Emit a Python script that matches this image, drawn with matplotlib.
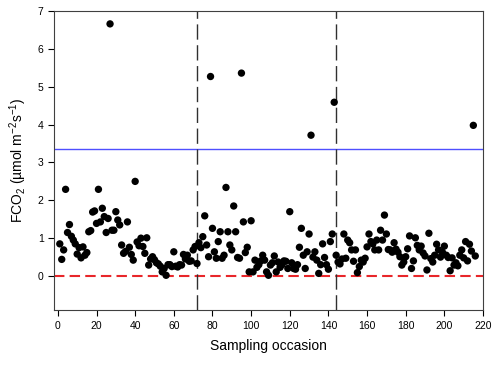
import numpy as np
import matplotlib
matplotlib.use('Agg')
import matplotlib.pyplot as plt

plt.rcParams['font.family'] = ['Liberation Sans', 'DejaVu Sans']
plt.rcParams['mathtext.default'] = 'regular'

# FCO2 per sampling occasion, three campaigns of 72 samples
fco2_part1 = [0.85, 0.44, 0.69, 2.29, 1.15, 1.36, 1.05, 0.95, 0.85, 0.58,
              0.75, 0.48, 0.77, 0.55, 0.62, 1.17, 1.20, 1.69, 1.72, 1.39,
              2.29, 1.43, 1.79, 1.57, 1.15, 1.52, 6.66, 1.21, 1.21, 1.70,
              1.48, 1.35, 0.82, 0.60, 0.65, 1.43, 0.76, 0.57, 0.42, 2.50,
              0.90, 0.80, 1.00, 0.78, 0.60, 1.01, 0.29, 0.45, 0.51, 0.43,
              0.35, 0.32, 0.26, 0.11, 0.20, 0.02, 0.30, 0.30, 0.25, 0.64,
              0.26, 0.24, 0.30, 0.29, 0.57, 0.45, 0.55, 0.39, 0.40, 0.69,
              0.78, 0.33]
fco2_part2 = [0.88, 0.75, 1.04, 1.59, 0.82, 0.51, 5.27, 1.26, 0.64, 0.47,
              0.91, 1.17, 0.47, 0.55, 2.34, 1.17, 0.82, 0.69, 1.85, 1.17,
              0.49, 0.47, 5.36, 1.43, 0.62, 0.76, 0.11, 1.46, 0.11, 0.42,
              0.23, 0.30, 0.40, 0.55, 0.42, 0.11, 0.02, 0.29, 0.35, 0.53,
              0.11, 0.37, 0.23, 0.30, 0.40, 0.39, 0.20, 1.70, 0.35, 0.20,
              0.18, 0.30, 0.76, 1.26, 0.55, 0.20, 0.64, 1.11, 3.72, 0.50,
              0.64, 0.42, 0.07, 0.30, 0.85, 0.49, 0.30, 0.18, 0.91, 1.11,
              4.59, 0.55]
fco2_part3 = [0.37, 0.32, 0.45, 1.11, 0.47, 0.95, 0.88, 0.69, 0.39, 0.69,
              0.09, 0.25, 0.42, 0.37, 0.47, 0.77, 1.11, 0.91, 0.85, 0.69,
              0.95, 0.69, 1.21, 0.95, 1.61, 1.11, 0.70, 0.69, 0.63, 0.88,
              0.71, 0.63, 0.51, 0.29, 0.37, 0.51, 0.72, 1.06, 0.20, 0.40,
              1.01, 0.81, 0.69, 0.79, 0.61, 0.53, 0.16, 1.13, 0.46, 0.37,
              0.55, 0.84, 0.69, 0.50, 0.63, 0.79, 0.55, 0.49, 0.14, 0.48,
              0.29, 0.35, 0.27, 0.55, 0.69, 0.48, 0.91, 0.40, 0.84, 0.66,
              3.98, 0.53]

threshold = 3.36
campaign_breaks = [72, 144]

fco2 = np.array(fco2_part1 + fco2_part2 + fco2_part3)
occasion = np.arange(1, len(fco2) + 1)

fig = plt.figure(figsize=(5, 3.67), dpi=100)
ax = fig.add_axes([0.108, 0.155, 0.858, 0.815])

ax.axhline(threshold, color='#4f4fff', lw=1.0, zorder=1)
ax.axhline(0, color='#e8262a', lw=1.5, ls=(0, (5, 2.5)), zorder=1)
for xb in campaign_breaks:
    ax.axvline(xb, color='#303030', lw=1.0, ls=(0, (11, 4)), zorder=1)

ax.scatter(occasion, fco2, s=28, color='black', edgecolors='none', zorder=3)

ax.set_xlim(-2, 220)
ax.set_ylim(-0.9, 7)
ax.set_xticks(np.arange(0, 221, 20))
ax.set_yticks(np.arange(0, 8, 1))
ax.tick_params(direction='out', length=4, width=0.8, labelsize=7.5,
               top=False, right=False)
for sp in ax.spines.values():
    sp.set_linewidth(0.8)
    sp.set_color('#404040')

ax.set_xlabel('Sampling occasion', fontsize=10, labelpad=6)
ax.set_ylabel('FCO$_2$ (µmol m$^{-2}$s$^{-1}$)', fontsize=10, labelpad=6)

fig.savefig('out.png', dpi=100)
